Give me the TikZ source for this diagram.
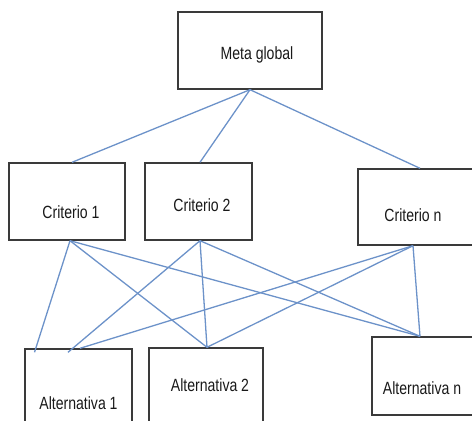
\documentclass[tikz,border=0pt]{standalone}
\usepackage{fontspec}
\setmainfont{Liberation Sans}
\definecolor{azulLinea}{RGB}{108,146,201}
\definecolor{grisCaja}{RGB}{58,58,58}
\newcommand{\textoAlto}[1]{\scalebox{0.97}[1.22]{#1}}
\begin{document}
\begin{tikzpicture}[x=1pt,y=-1pt]
			% Estilos
			\tikzstyle{caja}=[draw=grisCaja,line width=1.4pt,rectangle,inner sep=0pt]
			\tikzstyle{texto}=[text=black!90,font=\fontsize{14.5}{17}\selectfont]
			\tikzstyle{linea}=[-,draw=azulLinea,line width=1.3pt]
			% Dimensiones
			\def\AltoCaja{77}
			\useasboundingbox (0,0) rectangle (472,421);
			% Nodos
			\node[caja,minimum width=144pt,minimum height=\AltoCaja pt,
				label={[texto,shift={(7,4.5)}]center:\textoAlto{Meta global}}] (meta) at (250,50.5) {};
			%
			\node[caja,minimum width=116pt,minimum height=\AltoCaja pt,
				label={[texto,shift={(4,11)}]center:\textoAlto{Criterio 1}}] (crit1) at (67,201.5) {};
			\node[caja,minimum width=107pt,minimum height=\AltoCaja pt,
				label={[texto,shift={(3.5,3.5)}]center:\textoAlto{Criterio 2}}] (crit2) at (198.5,201.5) {};
			\node[caja,minimum width=122pt,minimum height=76pt,
				label={[texto,shift={(-6,8)}]center:\textoAlto{Criterio n}}] (critn) at (419,207) {};
			%
			\node[caja,minimum width=107pt,minimum height=91pt,
				label={[texto,shift={(0,8.5)}]center:\textoAlto{Alternativa 1}}] (alt1) at (78.5,394.5) {};
			\node[caja,minimum width=114pt,minimum height=92pt,
				label={[texto,shift={(4,-9)}]center:\textoAlto{Alternativa 2}}] (alt2) at (206,394) {};
			\node[caja,minimum width=104pt,minimum height=78pt,
				label={[texto,shift={(-2,12)}]center:\textoAlto{Alternativa n}}] (altn) at (424,376) {};
			% Arcos
			\draw[linea] (meta.south)--([xshift=5pt]crit1.north);
			\draw[linea] (meta.south)--([xshift=1.5pt]crit2.north);
			\draw[linea] (meta.south)--([xshift=1pt]critn.north);
			%
			\draw[linea] ([xshift=3pt]crit1.south)--([xshift=-44pt,yshift=-4pt]alt1.north);
			\draw[linea] ([xshift=3pt]crit1.south)--([xshift=1pt]alt2.north);
			\draw[linea] ([xshift=3pt]crit1.south)--([xshift=-4pt]altn.north);
			\draw[linea] ([xshift=1.5pt]crit2.south)--([xshift=-10.5pt,yshift=-4pt]alt1.north);
			\draw[linea] ([xshift=1.5pt]crit2.south)--([xshift=1pt]alt2.north);
			\draw[linea] ([xshift=1.5pt]crit2.south)--([xshift=-4pt]altn.north);
			\draw[linea] ([xshift=-6pt]critn.south)--([xshift=1.5pt]alt1.north);
			\draw[linea] ([xshift=-6pt]critn.south)--([xshift=1pt]alt2.north);
			\draw[linea] ([xshift=-6pt]critn.south)--([xshift=-4pt]altn.north);
		\end{tikzpicture}
\end{document}
